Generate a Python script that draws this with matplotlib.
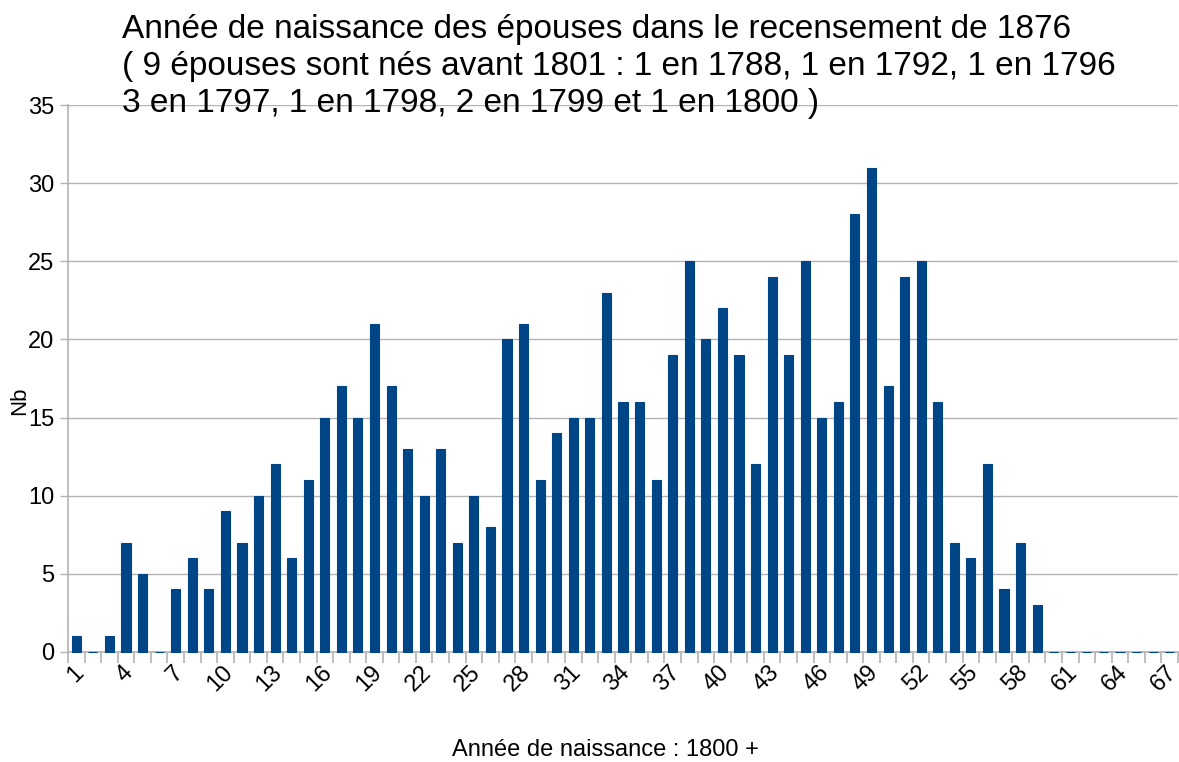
import numpy as np
import matplotlib.pyplot as plt
import matplotlib.transforms as mtransforms

plt.rcParams['font.family'] = ['Liberation Sans', 'DejaVu Sans']

# annee de naissance (1800 + n) et nombre d'epouses
annees = list(range(1, 68))
nb = [1, 0, 1, 7, 5, 0, 4, 6, 4, 9,
      7, 10, 12, 6, 11, 15, 17, 15, 21, 17,
      13, 10, 13, 7, 10, 8, 20, 21, 11, 14,
      15, 15, 23, 16, 16, 11, 19, 25, 20, 22,
      19, 12, 24, 19, 25, 15, 16, 28, 31, 17,
      24, 25, 16, 7, 6, 12, 4, 7, 3, 0,
      0, 0, 0, 0, 0, 0, 0]
titre = ("Année de naissance des épouses dans le recensement de 1876\n"
         "( 9 épouses sont nés avant 1801 : 1 en 1788, 1 en 1792, 1 en 1796\n"
         "3 en 1797, 1 en 1798, 2 en 1799 et 1 en 1800 )")

bleu = '#004586'
gris = '#b3b3b3'

fig = plt.figure(figsize=(11.79, 7.62), dpi=100)
ax = fig.add_axes([68/1179, 110/762, 1110/1179, 547/762])

ax.bar(annees, nb, width=0.55, color=bleu, edgecolor=bleu, linewidth=0.8,
       zorder=3, clip_on=False)

ax.set_xlim(0.5, 67.5)
ax.set_ylim(0, 35)
ax.set_yticks(range(0, 36, 5))
ax.yaxis.grid(True, color=gris, linewidth=1, zorder=0)
ax.tick_params(axis='y', labelsize=17, length=6, color=gris, width=1, pad=4)

# graduations entre les barres, etiquettes tous les 3
ax.set_xticks(np.arange(0.5, 68, 1), minor=True)
ax.set_xticks(annees[::3])
ax.set_xticklabels([str(a) for a in annees[::3]], rotation=45, ha='right',
                   rotation_mode='anchor', fontsize=17)
ax.tick_params(axis='x', which='major', length=0, pad=7)
ax.tick_params(axis='x', which='minor', length=8, color=gris, width=1.2)
decal = mtransforms.ScaledTranslation(-4/100, 0, fig.dpi_scale_trans)
for lab in ax.get_xticklabels():
    lab.set_transform(lab.get_transform() + decal)

for s in ['top', 'right']:
    ax.spines[s].set_visible(False)
for s in ['left', 'bottom']:
    ax.spines[s].set_color(gris)
    ax.spines[s].set_linewidth(1.2)

fig.text(605/1179, 1 - 750/762, "Année de naissance : 1800 +", fontsize=17,
         ha='center', va='center')
fig.text(20/1179, 1 - 401/762, "Nb", rotation=90, fontsize=16,
         ha='center', va='center')

fig.text(122/1179, 1 - 14/762, titre, fontsize=24, ha='left', va='top',
         linespacing=1.24)

fig.savefig('out.png', dpi=100)
